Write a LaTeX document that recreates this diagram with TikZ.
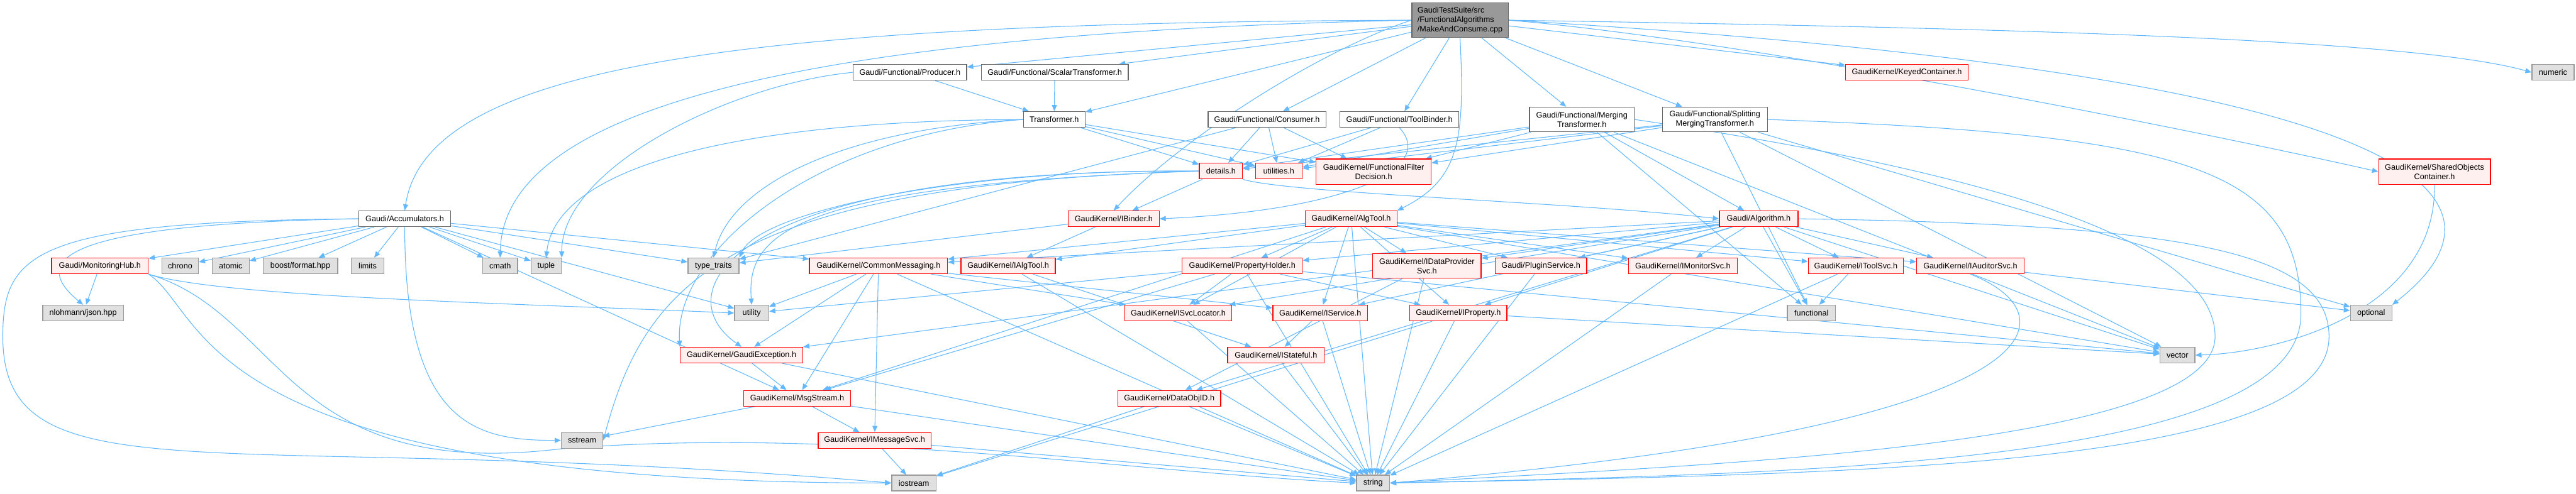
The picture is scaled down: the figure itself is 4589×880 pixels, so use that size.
\documentclass[tikz,border=0pt]{standalone}
\usepackage{fontspec}
\newfontfamily\dfont{Liberation Sans}
\usetikzlibrary{arrows.meta}
\definecolor{edgecol}{HTML}{63B8FF}
\definecolor{mainfill}{HTML}{999999}
\definecolor{mainborder}{HTML}{666666}
\definecolor{plainborder}{HTML}{666666}
\definecolor{redfill}{HTML}{FFF0F0}
\definecolor{redborder}{HTML}{FF0000}
\definecolor{sysfill}{HTML}{E0E0E0}
\definecolor{sysborder}{HTML}{999999}
\pgfdeclarelayer{bg}
\pgfsetlayers{bg,main}
\begin{document}
\begin{tikzpicture}[x=1pt,y=-1pt,
  box/.style={draw, line width=1.5pt, inner sep=0pt, minimum height=28pt,
    font=\dfont\fontsize{14.2}{17}\selectfont, align=center},
  bw/.style={minimum width=#1pt},
  tall/.style={minimum height=#1pt},
  srcnode/.style={box, fill=mainfill, draw=mainborder, align=left},
  plainnode/.style={box, fill=white, draw=plainborder},
  rednode/.style={box, fill=redfill, draw=redborder},
  sysnode/.style={box, fill=sysfill, draw=sysborder},
  edge/.style={draw=edgecol, line width=1.2pt, -{Triangle[length=11pt,width=9pt]}}]
\useasboundingbox (0,0) rectangle (4589,880);
% row 0
\node[srcnode, bw=172, tall=62] (main) at (2601,36) {GaudiTestSuite/src\\/FunctionalAlgorithms\\/MakeAndConsume.cpp};
% row 1
\node[plainnode, bw=202] (producer) at (1621,129) {Gaudi/Functional/Producer.h};
\node[plainnode, bw=262] (scalar) at (1879,129) {Gaudi/Functional/ScalarTransformer.h};
\node[rednode, bw=218] (keyed) at (3397,129) {GaudiKernel/KeyedContainer.h};
\node[sysnode, bw=75] (numeric) at (4548,129) {numeric};
% row 2
\node[plainnode, bw=110] (transformer) at (1878,213) {Transformer.h};
\node[plainnode, bw=210] (consumer) at (2257,213) {Gaudi/Functional/Consumer.h};
\node[plainnode, bw=212] (toolbinder) at (2493,213) {Gaudi/Functional/ToolBinder.h};
\node[plainnode, bw=187, tall=44] (merging) at (2818,213) {Gaudi/Functional/Merging\\Transformer.h};
\node[plainnode, bw=187, tall=44] (splitting) at (3055,213) {Gaudi/Functional/Splitting\\MergingTransformer.h};
% row 3
\node[rednode, bw=77] (details) at (2175,305) {details.h};
\node[rednode, bw=83] (utilities) at (2278,305) {utilities.h};
\node[rednode, bw=205, tall=45] (ffd) at (2447,306) {GaudiKernel/FunctionalFilter\\Decision.h};
\node[rednode, bw=199, tall=45] (shared) at (4337,306) {GaudiKernel/SharedObjects\\Container.h};
% row 4
\node[plainnode, bw=163] (acc) at (721,390) {Gaudi/Accumulators.h};
\node[rednode, bw=162] (ibinder) at (1984,390) {GaudiKernel/IBinder.h};
\node[rednode, bw=163] (algtool) at (2407,390) {GaudiKernel/AlgTool.h};
\node[rednode, bw=140] (algorithm) at (3133,390) {Gaudi/Algorithm.h};
% row 5
\node[rednode, bw=172] (mhub) at (178,474) {Gaudi/MonitoringHub.h};
\node[sysnode, bw=65] (chrono) at (321,474) {chrono};
\node[sysnode, bw=66] (atomic) at (411,474) {atomic};
\node[sysnode, bw=133] (boostfmt) at (535,474) {boost/format.hpp};
\node[sysnode, bw=58] (limits) at (655,474) {limits};
\node[sysnode, bw=62] (cmath) at (891,474) {cmath};
\node[sysnode, bw=54] (tuple) at (973,474) {tuple};
\node[sysnode, bw=91] (typetraits) at (1271,474) {type\_traits};
\node[rednode, bw=246] (commsg) at (1565,474) {GaudiKernel/CommonMessaging.h};
\node[rednode, bw=168] (ialgtool) at (1796,474) {GaudiKernel/IAlgTool.h};
\node[rednode, bw=214] (propholder) at (2213,474) {GaudiKernel/PropertyHolder.h};
\node[rednode, bw=193, tall=44] (idps) at (2542,474) {GaudiKernel/IDataProvider\\Svc.h};
\node[rednode, bw=163] (plugin) at (2745,474) {Gaudi/PluginService.h};
\node[rednode, bw=194] (imon) at (2998,474) {GaudiKernel/IMonitorSvc.h};
\node[rednode, bw=169] (itoolsvc) at (3306,474) {GaudiKernel/IToolSvc.h};
\node[rednode, bw=191] (iaud) at (3510,474) {GaudiKernel/IAuditorSvc.h};
% row 6
\node[sysnode, bw=144] (json) at (148,558) {nlohmann/json.hpp};
\node[sysnode, bw=61] (utility) at (1339,558) {utility};
\node[rednode, bw=190] (isvcloc) at (2099,558) {GaudiKernel/ISvcLocator.h};
\node[rednode, bw=169] (iservice) at (2352,558) {GaudiKernel/IService.h};
\node[rednode, bw=173] (iprop) at (2598,558) {GaudiKernel/IProperty.h};
\node[sysnode, bw=86] (functional) at (3227,558) {functional};
\node[sysnode, bw=74] (optional) at (4224,558) {optional};
% row 7
\node[rednode, bw=218] (gexc) at (1321,633) {GaudiKernel/GaudiException.h};
\node[rednode, bw=172] (istateful) at (2273,633) {GaudiKernel/IStateful.h};
\node[sysnode, bw=62] (vector) at (3879,633) {vector};
% row 8
\node[rednode, bw=190] (msgstream) at (1420,710) {GaudiKernel/MsgStream.h};
\node[rednode, bw=183] (dataobjid) at (2083,710) {GaudiKernel/DataObjID.h};
% row 9
\node[sysnode, bw=74] (sstream) at (1037,785) {sstream};
\node[rednode, bw=201] (imsgsvc) at (1558,785) {GaudiKernel/IMessageSvc.h};
% row 10
\node[sysnode, bw=79] (iostream) at (1628,861) {iostream};
\node[sysnode, bw=59] (string) at (2446,861) {string};

\begin{pgfonlayer}{bg}
\foreach \a/\b in {main/producer, main/scalar, main/transformer, main/consumer,
  main/toolbinder, main/merging, main/splitting, main/keyed,
  acc/mhub, acc/chrono, acc/atomic, acc/boostfmt, acc/limits, acc/cmath, acc/tuple,
  acc/msgstream, acc/typetraits, acc/commsg, acc/utility,
  mhub/json,
  producer/transformer, scalar/transformer,
  transformer/details, transformer/utilities, transformer/ffd,
  consumer/details, consumer/utilities, consumer/ffd, consumer/typetraits,
  toolbinder/details, toolbinder/utilities,
  merging/details, merging/utilities, merging/ffd, merging/algorithm, merging/functional, merging/vector,
  splitting/details, splitting/utilities, splitting/ffd, splitting/functional, splitting/vector, splitting/optional,
  details/ibinder,
  ibinder/ialgtool, ibinder/typetraits,
  algtool/commsg, algtool/ialgtool, algtool/idps, algtool/plugin, algtool/imon, algtool/itoolsvc,
  algtool/iaud, algtool/propholder, algtool/iprop, algtool/iservice, algtool/isvcloc, algtool/msgstream,
  algtool/string, algtool/vector,
  algorithm/propholder, algorithm/commsg, algorithm/idps, algorithm/plugin, algorithm/imon,
  algorithm/itoolsvc, algorithm/iaud, algorithm/gexc, algorithm/iprop, algorithm/iservice,
  algorithm/isvcloc, algorithm/dataobjid, algorithm/vector, algorithm/functional,
  commsg/utility, commsg/gexc, commsg/msgstream, commsg/imsgsvc, commsg/string, commsg/isvcloc, commsg/iservice,
  ialgtool/istateful, ialgtool/string,
  propholder/iprop, propholder/utility, propholder/msgstream, propholder/isvcloc, propholder/string, propholder/vector,
  idps/dataobjid, idps/string, plugin/string, imon/string,
  itoolsvc/functional, itoolsvc/string, iaud/optional,
  isvcloc/string, iservice/istateful, iservice/string,
  iprop/string, iprop/vector, iprop/iostream,
  gexc/msgstream, gexc/string, istateful/string,
  msgstream/imsgsvc, msgstream/sstream, msgstream/string,
  dataobjid/iostream, dataobjid/string, imsgsvc/iostream, imsgsvc/string}
  \draw[edge] (\a) -- (\b);
% curved connectors
\draw[edge] (main.west) .. controls (1300,40) and (760,120) .. (acc.north);
\draw[edge] (main.west) .. controls (1400,60) and (895,200) .. (cmath.north);
\draw[edge] (main.west) .. controls (2350,90) and (2100,250) .. (ibinder.north);
\draw[edge] (main.south) .. controls (2610,250) and (2600,320) .. (algtool.north east);
\draw[edge] (main.east) .. controls (3600,50) and (4300,70) .. (numeric.west);
\draw[edge] (main.east) .. controls (4450,140) and (4470,380) .. (optional.north east);
\draw[edge] (main.east) .. controls (3100,70) and (3900,230) .. (shared.west);
\draw[edge] (acc.west) .. controls (80,400) and (60,470) .. (json.north);
\draw[edge] (acc.west) .. controls (60,395) and (5,450) .. (5,600) .. controls (5,900) and (400,760) .. (iostream.west);
\draw[edge] (acc.south) .. controls (721,760) and (850,785) .. (sstream.west);
\draw[edge] (mhub.south east) .. controls (400,530) and (900,540) .. (utility.west);
\draw[edge] (mhub.south east) .. controls (372,560) and (340,860) .. (iostream.west);
\draw[edge] (mhub.south east) .. controls (505,560) and (505,860) .. (1000,800) .. controls (1500,760) and (2000,840) .. (string.west);
\draw[edge] (producer.west) .. controls (1300,150) and (1000,300) .. (tuple.north east);
\draw[edge] (transformer.west) .. controls (1300,215) and (990,300) .. (tuple.north);
\draw[edge] (transformer.west) .. controls (1500,230) and (1300,330) .. (typetraits.north);
\draw[edge] (transformer.west) .. controls (1450,240) and (1200,450) .. (gexc.north west);
\draw[edge] (toolbinder.south) .. controls (2560,300) and (2400,375) .. (ibinder.east);
\draw[edge] (shared.south) .. controls (4340,560) and (4050,630) .. (vector.east);
\draw[edge] (details.west) .. controls (1700,300) and (1350,380) .. (typetraits.north east);
\draw[edge] (details.west) .. controls (1300,330) and (1150,500) .. (sstream.east);
\draw[edge] (details.west) .. controls (1300,300) and (1180,520) .. (gexc.north);
\draw[edge] (details.west) .. controls (1400,330) and (1330,420) .. (utility.north);
\draw[edge] (details.south east) .. controls (2300,345) and (2800,360) .. (algorithm.west);
\draw[edge] (iaud.south) .. controls (3693,560) and (3693,760) .. (string.east);
\draw[edge] (merging.east) .. controls (3500,300) and (3946,420) .. (3946,600) .. controls (3946,800) and (3000,830) .. (string.east);
\draw[edge] (splitting.east) .. controls (3900,240) and (4099,300) .. (4099,560) .. controls (4099,830) and (3200,845) .. (string.east);
\draw[edge] (algorithm.east) .. controls (3900,400) and (4149,450) .. (4149,600) .. controls (4149,835) and (3300,845) .. (string.east);
\end{pgfonlayer}
\end{tikzpicture}
\end{document}
